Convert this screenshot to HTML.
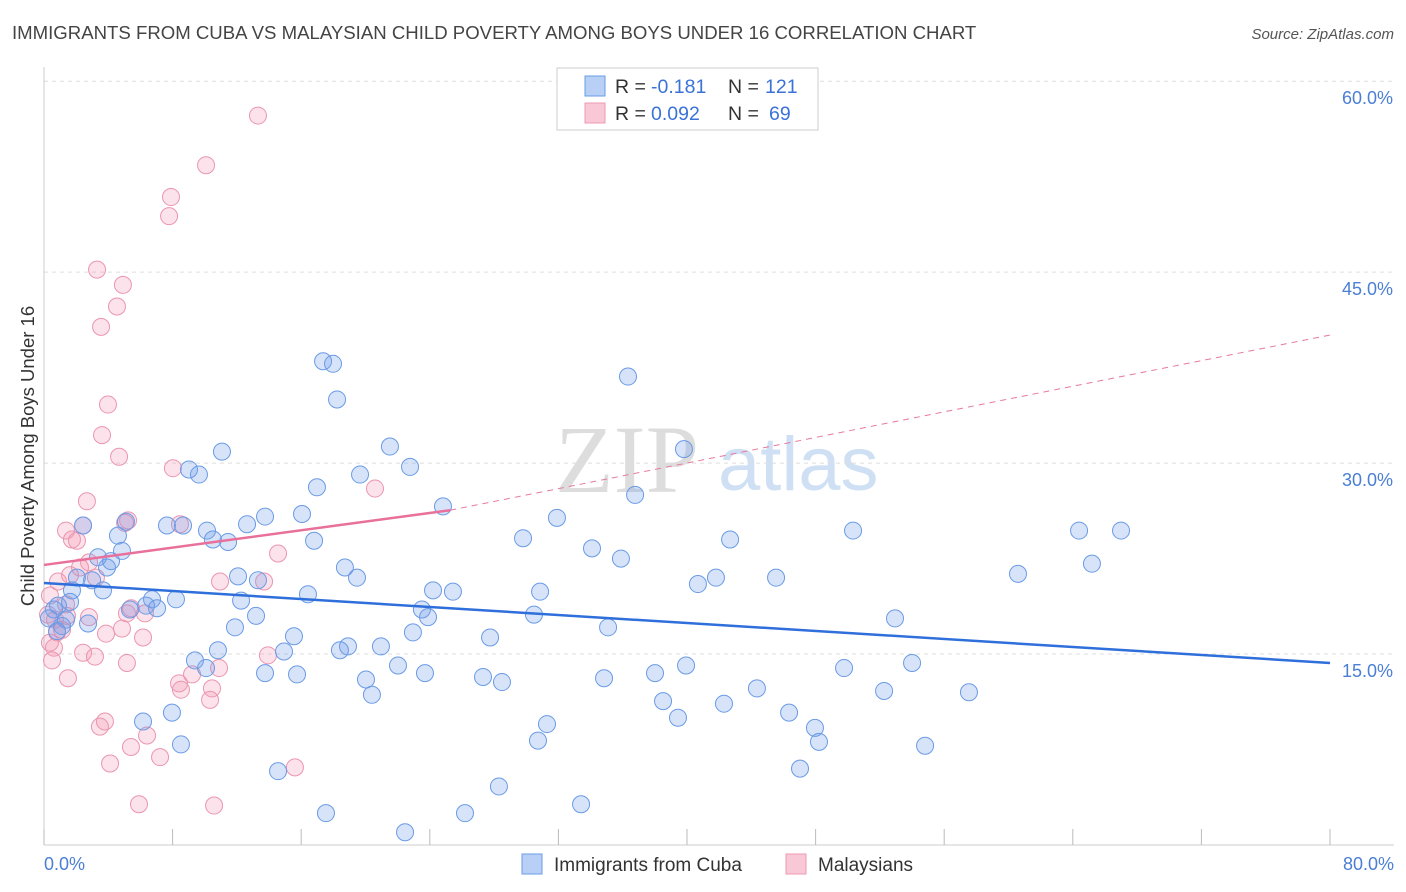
<!DOCTYPE html>
<html><head><meta charset="utf-8"><style>
body{margin:0;background:#fff;font-family:"Liberation Sans",sans-serif;}
#wrap{position:relative;width:1406px;height:892px;overflow:hidden;}
</style></head><body>
<div id="wrap">
<svg id="svg" width="1406" height="892" xmlns="http://www.w3.org/2000/svg">
<text x="12" y="39" font-size="18.6" fill="#444">IMMIGRANTS FROM CUBA VS MALAYSIAN CHILD POVERTY AMONG BOYS UNDER 16 CORRELATION CHART</text>
<text x="1394" y="39" font-size="15" fill="#555" font-style="italic" text-anchor="end">Source: ZipAtlas.com</text>
<text transform="translate(34,456) rotate(-90)" font-size="18.5" fill="#333" text-anchor="middle">Child Poverty Among Boys Under 16</text>
<g>
<text x="555" y="492" font-size="96" fill="#ddd" font-family="Liberation Serif,serif">ZIP</text>
<text x="718" y="490" font-size="76" fill="#cfe0f4">atlas</text>
</g>
<g id="grid"></g><g id="marks"></g>
<g>
<rect x="557" y="68" width="261" height="62" fill="#fff" stroke="#ccc"/>
<rect x="585" y="76" width="20" height="20" fill="#b8d0f5" stroke="#6a9be6"/>
<rect x="585" y="103" width="20" height="20" fill="#f9c8d6" stroke="#ec9ab2"/>
<text x="615" y="93" font-size="19.5" fill="#333">R =</text>
<text x="651" y="93" font-size="19.5" fill="#3a72d8">-0.181</text>
<text x="728" y="93" font-size="19.5" fill="#333">N =</text>
<text x="765" y="93" font-size="19.5" fill="#3a72d8">121</text>
<text x="615" y="120" font-size="19.5" fill="#333">R =</text>
<text x="651" y="120" font-size="19.5" fill="#3a72d8">0.092</text>
<text x="728" y="120" font-size="19.5" fill="#333">N =</text>
<text x="769" y="120" font-size="19.5" fill="#3a72d8">69</text>
</g>
<g>
<rect x="522" y="854" width="20" height="20" fill="#b8d0f5" stroke="#6a9be6"/>
<text x="554" y="871" font-size="19" fill="#333">Immigrants from Cuba</text>
<rect x="786" y="854" width="20" height="20" fill="#f9c8d6" stroke="#ec9ab2"/>
<text x="818" y="871" font-size="19" fill="#333">Malaysians</text>
</g>
</svg>
</div>
<script>
const blueX=[17.36,17.98,18.23,36.33,21.52,11.07,9.02,9.64,22.77,19.66,16.98,39.81,36.77,24.82,31.91,13.75,16.05,12.63,7.65,8.65,10.14,10.51,11.45,16.8,29.8,34.09,35.89,42.68,50.33,64.39,67.0,65.19,60.59,45.54,41.8,40.68,12.07,13.31,18.72,19.47,24.2,25.44,30.86,16.42,12.26,8.21,6.72,6.35,7.03,5.35,23.51,23.89,30.48,13.19,11.88,35.09,22.95,27.75,52.94,15.55,10.82,9.39,10.08,14.93,18.91,18.41,20.96,22.02,23.7,13.75,15.74,20.03,20.4,27.31,28.49,34.84,38.01,39.94,44.35,49.77,54.0,52.26,57.54,38.51,42.3,39.44,46.35,47.96,31.29,30.73,48.21,54.81,7.96,6.16,8.52,14.56,28.3,33.41,47.03,17.54,26.19,22.46,0.87,0.62,1.62,1.37,1.12,2.74,1.74,2.05,2.99,3.67,3.36,3.92,4.17,4.85,4.6,5.1,2.43,0.31,0.81];
const blueY=[38.0,37.8,35.0,36.8,31.3,30.9,29.5,29.1,29.7,29.1,28.1,31.1,27.5,26.6,25.7,25.8,26.0,25.2,25.1,25.1,24.7,24.0,23.8,23.9,24.1,23.3,22.5,24.0,24.7,24.7,24.7,22.1,21.3,21.0,21.0,20.5,21.1,20.8,21.8,21.0,20.0,19.9,19.9,19.7,19.2,19.3,19.3,18.8,18.6,18.5,18.5,17.9,18.1,18.0,17.1,17.1,16.7,16.3,17.8,16.4,15.3,14.5,13.9,15.2,15.6,15.3,15.6,14.1,13.5,13.5,13.4,13.0,11.8,13.2,12.8,13.1,13.5,14.1,12.3,13.9,14.3,12.1,12.0,11.3,11.1,10.0,10.4,9.2,9.5,8.2,8.1,7.8,10.4,9.7,7.9,5.8,4.6,3.2,6.0,2.5,2.5,1.0,18.8,18.5,19.1,17.7,17.2,17.4,20.0,21.0,20.8,20.0,22.6,21.8,22.3,23.1,24.3,25.4,25.1,17.8,16.8];
const pinkX=[13.31,10.08,7.9,7.78,3.3,4.91,4.54,3.55,3.98,3.61,4.67,8.02,20.59,2.67,2.43,5.23,5.04,8.46,1.37,1.74,2.05,2.8,2.24,1.62,14.56,10.95,13.69,0.87,3.23,0.37,1.37,0.25,0.68,1.43,1.12,2.8,5.16,5.41,6.28,0.81,0.37,0.62,4.85,3.86,6.16,0.5,2.43,3.17,5.16,10.89,9.21,1.49,8.4,8.52,10.45,10.33,13.93,3.48,3.79,6.41,5.41,7.22,4.11,15.61,5.91,10.58];
const pinkY=[57.3,53.4,50.9,49.4,45.2,44.0,42.3,40.7,34.6,32.2,30.5,29.6,28.0,27.0,25.1,25.5,25.3,25.2,24.7,24.0,23.9,22.2,21.8,21.2,22.9,20.7,20.7,20.7,21.0,19.6,18.9,18.1,17.7,18.0,16.9,17.9,18.2,18.6,18.2,16.7,15.9,15.5,17.0,16.6,16.3,14.5,15.1,14.8,14.3,13.9,13.4,13.1,12.7,12.2,12.3,11.4,14.9,9.3,9.7,8.6,7.7,6.9,6.4,6.1,3.2,3.1];
const yTicks=[15,30,45,60];
const yTickLabels=["15.0%","30.0%","45.0%","60.0%"];
const xTicks=[0,8,16,24,32,40,48,56,64,72,80];
const blueTrend=[20.58,14.3];
const pinkSolidX=[0,25.26];
const pinkSolidY=[22.0,26.3];
const pinkDashX=[25.26,80];
const pinkDashY=[26.3,40.06];

const NS="http://www.w3.org/2000/svg";
const X=v=>44+v*(1286/80);
const Y=v=>845-v*12.73;
function mk(tag,attrs,parent){const e=document.createElementNS(NS,tag);for(const k in attrs)e.setAttribute(k,attrs[k]);parent.appendChild(e);return e;}
const grid=document.getElementById('grid'),marks=document.getElementById('marks');
yTicks.forEach((t,i)=>{
  const l=mk('line',{x1:44,x2:1394,y1:Y(t),y2:Y(t),stroke:'#ddd','stroke-dasharray':'4,4'},grid);
  
  
  const tx=mk('text',{x:1393,y:Y(t)+23,'font-size':18,fill:'#4a7fd4','text-anchor':'end'},grid);
  tx.textContent=yTickLabels[i];
  
  
});
const ax=mk('line',{x1:44,x2:44,y1:67,y2:845,stroke:'#ccc'},grid);


const bx=mk('line',{x1:44,x2:1394,y1:845,y2:845,stroke:'#ccc'},grid);


xTicks.forEach(t=>{
  const l=mk('line',{x1:X(t),x2:X(t),y1:829,y2:845,stroke:'#bbb'},grid);
  
  
});
const xl0=mk('text',{x:44,y:870,'font-size':18,fill:'#4a7fd4'},grid);xl0.textContent='0.0%';


const xl1=mk('text',{x:1394,y:870,'font-size':18,fill:'#4a7fd4','text-anchor':'end'},grid);xl1.textContent='80.0%';


pinkX.forEach((x,i)=>{
  const c=mk('circle',{cx:X(x),cy:Y(pinkY[i]),r:8.5,fill:'rgba(244,150,180,0.28)',stroke:'#eb96b0','stroke-width':1},marks);
  
  
});
blueX.forEach((x,i)=>{
  const c=mk('circle',{cx:X(x),cy:Y(blueY[i]),r:8.5,fill:'rgba(110,155,235,0.28)',stroke:'#6a9be6','stroke-width':1},marks);
  
  
});
const pd=mk('line',{x1:X(pinkDashX[0]),y1:Y(pinkDashY[0]),x2:X(pinkDashX[1]),y2:Y(pinkDashY[1]),stroke:'#e8799c','stroke-width':1,'stroke-dasharray':'6,5'},marks);


const ps=mk('line',{x1:X(pinkSolidX[0]),y1:Y(pinkSolidY[0]),x2:X(pinkSolidX[1]),y2:Y(pinkSolidY[1]),stroke:'#e8709a','stroke-width':2.5},marks);


const bl=mk('line',{x1:X(0),y1:Y(blueTrend[0]),x2:X(80),y2:Y(blueTrend[1]),stroke:'#2f6fdb','stroke-width':2.5},marks);


</script>
</body></html>
